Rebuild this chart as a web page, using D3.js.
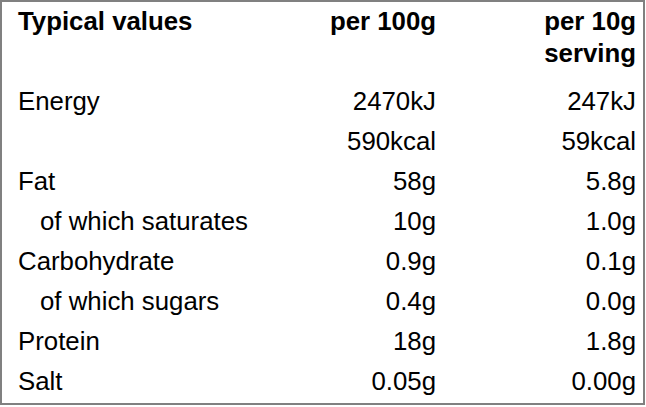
<!DOCTYPE html>
<html>
<head>
<meta charset="utf-8">
<script src="https://cdn.jsdelivr.net/npm/d3@7"></script>
<style>
  html, body { margin: 0; padding: 0; background: #fff; }
  svg { display: block; font-family: "Liberation Sans", Arial, sans-serif; }
</style>
</head>
<body>
<div class="nutrition_table"></div>
<script>
// Table content
const headers = ["Typical values", "per 100g", "per 10g"];
const headerLine2 = ["", "", "serving"];
const nutrients = ["Energy", "", "Fat", "of which saturates", "Carbohydrate", "of which sugars", "Protein", "Salt"];
const indented = [false, false, false, true, false, true, false, false];
const per100g = ["2470kJ", "590kcal", "58g", "10g", "0.9g", "0.4g", "18g", "0.05g"];
const perServing = ["247kJ", "59kcal", "5.8g", "1.0g", "0.1g", "0.0g", "1.8g", "0.00g"];

const width = 646, height = 407;

const svg = d3.select(".nutrition_table")
  .append("svg")
  .attr("width", width)
  .attr("height", height);

// outer border
svg.append("rect")
  .attr("x", 1).attr("y", 1)
  .attr("width", width - 3).attr("height", height - 4)
  .attr("fill", "none")
  .attr("stroke", "#808080")
  .attr("stroke-width", 2);

// column positions: label left, two value columns right aligned
const col = d3.scaleOrdinal()
  .domain([0, 1, 2])
  .range([18, 436, 636]);
const anchor = i => i === 0 ? "start" : "end";

// row baselines
const y = d3.scaleLinear()
  .domain([0, nutrients.length - 1])
  .range([110, 390]);

const fontSize = 25.8;

// header
const head = svg.append("g").attr("font-weight", "bold").attr("font-size", fontSize);
head.selectAll("text.h1")
  .data(headers)
  .enter()
  .append("text")
  .attr("x", (d, i) => col(i))
  .attr("y", 30)
  .attr("text-anchor", (d, i) => anchor(i))
  .text(d => d);
head.selectAll("text.h2")
  .data(headerLine2)
  .enter()
  .append("text")
  .attr("x", (d, i) => col(i))
  .attr("y", 62)
  .attr("text-anchor", (d, i) => anchor(i))
  .text(d => d);

// body rows
const rows = svg.append("g").attr("font-size", fontSize).attr("fill", "#000")
  .selectAll("g")
  .data(nutrients.map((n, i) => ({ name: n, indent: indented[i], a: per100g[i], b: perServing[i], i })))
  .enter()
  .append("g")
  .attr("transform", d => "translate(0," + y(d.i) + ")");

rows.append("text")
  .attr("x", d => col(0) + (d.indent ? 22 : 0))
  .text(d => d.name);
rows.append("text")
  .attr("x", col(1))
  .attr("text-anchor", "end")
  .text(d => d.a);
rows.append("text")
  .attr("x", col(2))
  .attr("text-anchor", "end")
  .text(d => d.b);
</script>
</body>
</html>
